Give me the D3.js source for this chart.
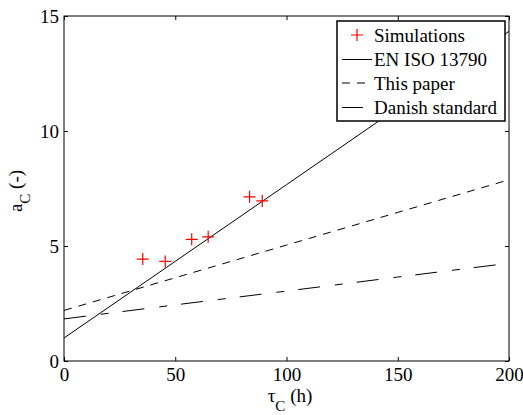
<!DOCTYPE html>
<html><head><meta charset="utf-8">
<script src="https://cdn.jsdelivr.net/npm/d3@7"></script>
</head><body style="margin:0"><svg id="c" width="523" height="415" style="font-family: Times New Roman"></svg>
<script>
const simTau = [35.4, 45.5, 57.4, 64.8, 83.4, 89.1];
const simA   = [4.43, 4.33, 5.29, 5.40, 7.14, 6.96];
const lineTau = [0, 50, 100, 150, 200];
const isoA    = [1.0, 4.333, 7.667, 11.0, 14.333];
const paperA  = [2.2, 3.62, 5.04, 6.46, 7.88];
const danishA = [1.83, 2.44, 3.04, 3.65, 4.25];
const xTicks = [0, 50, 100, 150, 200];
const yTicks = [0, 5, 10, 15];
const legendLabels = ["Simulations", "EN ISO 13790", "This paper", "Danish standard"];

const svg = d3.select("#c");
const L = 64, R = 509, T = 16, B = 361;
const x = d3.scaleLinear().domain([0, 200]).range([L, R]);
const y = d3.scaleLinear().domain([0, 15]).range([B, T]);

svg.append("rect").attr("x", L).attr("y", T).attr("width", R - L).attr("height", B - T).attr("fill", "#fff");
svg.append("clipPath").attr("id", "cp").append("rect").attr("x", L).attr("y", T).attr("width", R - L).attr("height", B - T);
const g = svg.append("g").attr("clip-path", "url(#cp)");

const ln = d3.line().x(d => x(d[0])).y(d => y(d[1]));
const series = [
  {v: isoA, dash: null},
  {v: paperA, dash: "8,7"},
  {v: danishA, dash: "22,15,8,14"}
];
series.forEach(s => {
  g.append("path").datum(lineTau.map((t, i) => [t, s.v[i]]))
    .attr("d", ln).attr("fill", "none").attr("stroke", "#000").attr("stroke-width", 1)
    .attr("stroke-dasharray", s.dash);
});

const m = 6;
simTau.forEach((t, i) => {
  const cx = x(t), cy = y(simA[i]);
  g.append("path").attr("d", `M${cx - m},${cy}H${cx + m}M${cx},${cy - m}V${cy + m}`)
    .attr("stroke", "#f00").attr("stroke-width", 1.2).attr("fill", "none");
});

// axes (tick labels drawn by d3 axes, font set afterwards)
const fs = 19;
svg.append("g").attr("transform", `translate(0,${B})`)
  .call(d3.axisBottom(x).tickValues(xTicks).tickSizeInner(-4).tickSizeOuter(0).tickPadding(7));
svg.append("g").attr("transform", `translate(0,${T})`)
  .call(d3.axisTop(x).tickValues(xTicks).tickSizeInner(-4).tickSizeOuter(0).tickFormat(""));
svg.append("g").attr("transform", `translate(${L},0)`)
  .call(d3.axisLeft(y).tickValues(yTicks).tickSizeInner(-4).tickSizeOuter(0).tickPadding(5));
svg.append("g").attr("transform", `translate(${R},0)`)
  .call(d3.axisRight(y).tickValues(yTicks).tickSizeInner(-4).tickSizeOuter(0).tickFormat(""));
svg.selectAll("g").attr("font-family", "Times New Roman").attr("font-size", fs);
svg.selectAll(".domain").remove();
svg.selectAll(".tick line").attr("stroke", "#000");
svg.selectAll(".tick text").style("font-family", "Times New Roman").style("font-size", fs + "px").attr("fill", "#000");
svg.append("rect").attr("x", L).attr("y", T).attr("width", R - L).attr("height", B - T)
  .attr("fill", "none").attr("stroke", "#000").attr("stroke-width", 1);

// axis labels
const xl = svg.append("text").attr("x", 290).attr("y", 402).attr("text-anchor", "middle")
  .style("font-family", "serif").style("font-size", fs + "px");
xl.append("tspan").text("τ");
xl.append("tspan").attr("dy", 9).style("font-size", "15px").text("C");
xl.append("tspan").attr("dy", -9).text(" (h)");
const yl = svg.append("text").attr("transform", "translate(22,191) rotate(-90)").attr("text-anchor", "middle")
  .style("font-family", "serif").style("font-size", fs + "px");
yl.append("tspan").text("a");
yl.append("tspan").attr("dy", 8).style("font-size", "15px").text("C");
yl.append("tspan").attr("dy", -8).text(" (-)");

// legend
const lg = svg.append("g");
lg.append("rect").attr("x", 337).attr("y", 21).attr("width", 168).attr("height", 100)
  .attr("fill", "#fff").attr("stroke", "#000").attr("stroke-width", 1.5);
const rows = [35, 59.5, 83, 107.5];
const lx0 = 342, lx1 = 372;
legendLabels.forEach((lab, i) => {
  const ry = rows[i];
  if (i === 0) {
    const cx = 357;
    lg.append("path").attr("d", `M${cx - m},${ry}H${cx + m}M${cx},${ry - m}V${ry + m}`)
      .attr("stroke", "#f00").attr("stroke-width", 1.2);
  } else if (i === 1) {
    lg.append("line").attr("x1", lx0).attr("x2", lx1).attr("y1", ry).attr("y2", ry).attr("stroke", "#000");
  } else if (i === 2) {
    lg.append("line").attr("x1", lx0).attr("x2", lx1).attr("y1", ry).attr("y2", ry).attr("stroke", "#000").attr("stroke-dasharray", "8,7");
  } else {
    lg.append("line").attr("x1", lx0).attr("x2", lx1).attr("y1", ry).attr("y2", ry).attr("stroke", "#000").attr("stroke-dasharray", "21,15,8,14");
  }
  lg.append("text").attr("x", 374).attr("y", ry + 6.5).style("font-family", "Liberation Serif").style("font-size", "19px").text(lab);
});
</script></body></html>
